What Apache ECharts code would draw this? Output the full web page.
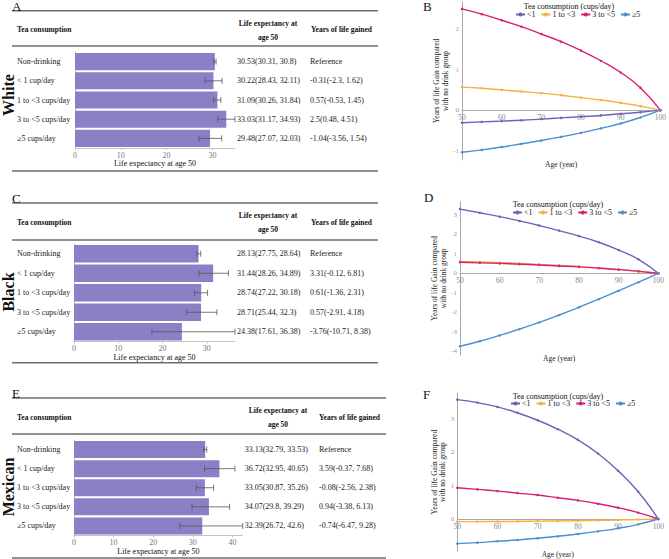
<!DOCTYPE html>
<html><head><meta charset="utf-8">
<script src="https://cdn.jsdelivr.net/npm/echarts@6/dist/echarts.min.js"></script>
<style>html,body{margin:0;padding:0;background:#fff}#c{width:669px;height:559px}</style>
</head><body><div id="c"></div>
<script>
// ---------- DATA ----------
const categories = ['Non-drinking', '< 1 cup/day', '1 to <3 cups/day', '3 to <5 cups/day', '≥5 cups/day'];

const whiteLE   = [30.53, 30.22, 31.09, 33.03, 29.48];
const whiteLow  = [30.31, 28.43, 30.26, 31.17, 27.07];
const whiteHigh = [30.8, 32.11, 31.84, 34.93, 32.03];
const whiteGain     = [null, -0.31, 0.57, 2.5, -1.04];
const whiteGainLow  = [null, -2.3, -0.53, 0.48, -3.56];
const whiteGainHigh = [null, 1.62, 1.45, 4.51, 1.54];

const blackLE   = [28.13, 31.44, 28.74, 28.71, 24.38];
const blackLow  = [27.75, 28.26, 27.22, 25.44, 17.61];
const blackHigh = [28.64, 34.89, 30.18, 32.3, 36.38];
const blackGain     = [null, 3.31, 0.61, 0.57, -3.76];
const blackGainLow  = [null, -0.12, -1.36, -2.91, -10.71];
const blackGainHigh = [null, 6.81, 2.31, 4.18, 8.38];

const mexicanLE   = [33.13, 36.72, 33.05, 34.07, 32.39];
const mexicanLow  = [32.79, 32.95, 30.87, 29.8, 26.72];
const mexicanHigh = [33.53, 40.65, 35.26, 39.29, 42.6];
const mexicanGain     = [null, 3.59, -0.08, 0.94, -0.74];
const mexicanGainLow  = [null, -0.37, -2.56, -3.38, -6.47];
const mexicanGainHigh = [null, 7.68, 2.38, 6.13, 9.28];

const ages = [50, 55, 60, 65, 70, 75, 80, 85, 90, 95, 100];
const seriesNames = ['<1', '1 to <3', '3 to <5', '≥5'];

const whiteLt1   = [-0.31, -0.29, -0.27, -0.25, -0.22, -0.19, -0.16, -0.13, -0.09, -0.05, 0];
const white1to3  = [0.57, 0.54, 0.50, 0.46, 0.42, 0.37, 0.31, 0.25, 0.18, 0.10, 0];
const white3to5  = [2.5, 2.37, 2.22, 2.06, 1.88, 1.69, 1.47, 1.22, 0.93, 0.55, 0];
const whiteGe5   = [-1.04, -0.98, -0.91, -0.83, -0.75, -0.66, -0.56, -0.45, -0.33, -0.18, 0];

const blackLt1   = [3.31, 3.12, 2.92, 2.70, 2.46, 2.20, 1.92, 1.60, 1.20, 0.72, 0];
const black1to3  = [0.61, 0.58, 0.55, 0.51, 0.46, 0.41, 0.35, 0.28, 0.20, 0.11, 0];
const black3to5  = [0.57, 0.54, 0.51, 0.47, 0.43, 0.38, 0.33, 0.26, 0.19, 0.10, 0];
const blackGe5   = [-3.76, -3.50, -3.20, -2.88, -2.53, -2.15, -1.75, -1.33, -0.90, -0.46, 0];

const mexicanLt1  = [3.59, 3.50, 3.37, 3.19, 2.97, 2.70, 2.38, 1.97, 1.45, 0.82, 0];
const mexican1to3 = [-0.08, -0.078, -0.075, -0.07, -0.065, -0.058, -0.05, -0.041, -0.03, -0.017, 0];
const mexican3to5 = [0.94, 0.89, 0.84, 0.78, 0.72, 0.64, 0.56, 0.46, 0.34, 0.19, 0];
const mexicanGe5  = [-0.74, -0.71, -0.67, -0.63, -0.58, -0.52, -0.45, -0.37, -0.28, -0.16, 0];

const barTicksWhite = [0, 10, 20, 30];
const barTicksBlack = [0, 10, 20, 30];
const barTicksMexican = [0, 10, 20, 30, 40];
const gainTicksWhite = [-1, 0, 1, 2];
const gainTicksBlack = [-4, -3, -2, -1, 0, 1, 2, 3];
const gainTicksMexican = [0, 1, 2, 3];

// ---------- LAYOUT / STYLE ----------
const FONT = 'Liberation Serif';
const lineColors = ['#6c63b8', '#f5b041', '#d81f78', '#4b8fce'];
const barColor = '#8a80c6';

const tables = [
  { race: 'White', le: whiteLE, lo: whiteLow, hi: whiteHigh, g: whiteGain, gl: whiteGainLow, gh: whiteGainHigh, ticks: barTicksWhite,
    grid: { left: 75, top: 52, width: 160, height: 96 }, labMargin: 58, ygOffset: 73,
    letter: 'A', letterXY: [12, 6], rules: [10.7, 46, 171], ruleRight: 378, head: 29, headLE: [23, 37], leX: 268, ygX: 311, raceY: 95, nameGap: 10 },
  { race: 'Black', le: blackLE, lo: blackLow, hi: blackHigh, g: blackGain, gl: blackGainLow, gh: blackGainHigh, ticks: barTicksBlack,
    grid: { left: 74, top: 244, width: 161, height: 97.5 }, labMargin: 57, ygOffset: 73,
    letter: 'C', letterXY: [12, 198], rules: [203, 240, 362.7], ruleRight: 378, head: 222.7, headLE: [215, 229], leX: 268, ygX: 311, raceY: 292, nameGap: 9 },
  { race: 'Mexican', le: mexicanLE, lo: mexicanLow, hi: mexicanHigh, g: mexicanGain, gl: mexicanGainLow, gh: mexicanGainHigh, ticks: barTicksMexican,
    grid: { left: 74, top: 440, width: 168.7, height: 95.5 }, labMargin: 57, ygOffset: 74.3,
    letter: 'E', letterXY: [12, 393], rules: [398, 434, 558], ruleRight: 386, head: 417, headLE: [410, 424], leX: 278, ygX: 319, raceY: 487, nameGap: 9 }
];

const lines = [
  { letter: 'B', letterXY: [423, 6], data: [whiteLt1, white1to3, white3to5, whiteGe5], ticks: gainTicksWhite,
    grid: { left: 462, top: 2, width: 201, height: 158 }, min: -1.23, max: 2.67, nameGap: 50, legendTitle: [569, 6], legend: { left: 515, top: 10.5 } },
  { letter: 'D', letterXY: [424, 197], data: [blackLt1, black1to3, black3to5, blackGe5], ticks: gainTicksBlack,
    grid: { left: 460, top: 201.7, width: 198.3, height: 153.3 }, min: -4.21, max: 3.69, nameGap: 81, legendTitle: [558, 204], legend: { left: 512, top: 208.5 } },
  { letter: 'F', letterXY: [423, 394], data: [mexicanLt1, mexican1to3, mexican3to5, mexicanGe5], ticks: gainTicksMexican,
    grid: { left: 457.3, top: 393.3, width: 201, height: 157.7 }, min: -0.96, max: 3.78, nameGap: 31, legendTitle: [558, 396], legend: { left: 510, top: 399.5 } }
];

function fmtCI(v, l, h) { return v + '(' + l + ', ' + h + ')'; }

function errRender(params, api) {
  const c = api.value(2);
  const p1 = api.coord([api.value(0), c]);
  const p2 = api.coord([api.value(1), c]);
  const h = 3;
  const st = { stroke: '#555', lineWidth: 0.8 };
  return { type: 'group', children: [
    { type: 'line', shape: { x1: p1[0], y1: p1[1], x2: p2[0], y2: p2[1] }, style: st },
    { type: 'line', shape: { x1: p1[0], y1: p1[1] - h, x2: p1[0], y2: p1[1] + h }, style: st },
    { type: 'line', shape: { x1: p2[0], y1: p2[1] - h, x2: p2[0], y2: p2[1] + h }, style: st }
  ] };
}

function txt(x, y, text, opt) {
  opt = opt || {};
  return { type: 'text', x: x, y: y, rotation: opt.rotation || 0, silent: true,
    style: { text: text, fill: opt.fill || '#111',
      font: (opt.weight || 'normal') + ' ' + (opt.size || 8) + 'px "' + FONT + '"',
      textAlign: opt.align || 'left', align: opt.align || 'left',
      textVerticalAlign: 'middle', verticalAlign: 'middle' } };
}
function rule(y, x1, x2) {
  return { type: 'line', silent: true, shape: { x1: x1, y1: y, x2: x2, y2: y }, style: { stroke: '#6e6e6e', lineWidth: 1.6 } };
}

const grid = [], xAxis = [], yAxis = [], series = [], graphic = [], legend = [];

tables.forEach((t, i) => {
  grid.push(t.grid);
  xAxis.push({ type: 'value', gridIndex: i, min: 0, max: Math.max.apply(null, t.hi),
    name: 'Life expectancy at age 50', nameLocation: 'middle', nameGap: t.nameGap,
    nameTextStyle: { fontFamily: FONT, fontSize: 8, color: '#111' },
    splitLine: { show: false },
    axisLine: { show: true, lineStyle: { color: '#c4c4c4', width: 1 } },
    axisTick: { show: true, length: 2, lineStyle: { color: '#c4c4c4' }, customValues: t.ticks },
    axisLabel: { fontFamily: FONT, fontSize: 8, color: '#777', margin: 3, customValues: t.ticks } });
  const yi = yAxis.length;
  yAxis.push({ type: 'category', gridIndex: i, inverse: true, data: categories,
    axisLine: { show: true, lineStyle: { color: '#c4c4c4' } }, axisTick: { show: false },
    axisLabel: { interval: 0, align: 'left', margin: t.labMargin, fontFamily: FONT, fontSize: 8, color: '#222' } });
  yAxis.push({ type: 'category', gridIndex: i, inverse: true, position: 'right',
    data: t.le.map((v, k) => fmtCI(v, t.lo[k], t.hi[k])),
    axisLine: { show: false }, axisTick: { show: false },
    axisLabel: { interval: 0, align: 'left', margin: 2, fontFamily: FONT, fontSize: 8, color: '#222' } });
  yAxis.push({ type: 'category', gridIndex: i, inverse: true, position: 'right', offset: t.ygOffset,
    data: t.g.map((v, k) => v === null ? 'Reference' : fmtCI(v, t.gl[k], t.gh[k])),
    axisLine: { show: false }, axisTick: { show: false },
    axisLabel: { interval: 0, align: 'left', margin: 2, fontFamily: FONT, fontSize: 8, color: '#222' } });
  series.push({ type: 'bar', xAxisIndex: i, yAxisIndex: yi, data: t.le, barCategoryGap: '11%',
    itemStyle: { color: barColor }, silent: true });
  series.push({ type: 'custom', xAxisIndex: i, yAxisIndex: yi, renderItem: errRender,
    encode: { x: [0, 1], y: 2 }, data: t.lo.map((l, k) => [l, t.hi[k], k]), silent: true, z: 5 });

  t.rules.forEach(y => graphic.push(rule(y, 12, t.ruleRight)));
  graphic.push(txt(t.letterXY[0], t.letterXY[1], t.letter, { size: 13 }));
  graphic.push(txt(17, t.head, 'Tea consumption', { weight: 'bold', size: 7.5 }));
  graphic.push(txt(t.leX, t.headLE[0], 'Life expectancy at', { weight: 'bold', size: 7.5, align: 'center' }));
  graphic.push(txt(t.leX, t.headLE[1], 'age 50', { weight: 'bold', size: 7.5, align: 'center' }));
  graphic.push(txt(t.ygX, t.head, 'Years of life gained', { weight: 'bold', size: 7.5 }));
  graphic.push(txt(8, t.raceY, t.race, { weight: 'bold', size: 16, align: 'center', rotation: Math.PI / 2 }));
});

lines.forEach((l, j) => {
  const gi = 3 + j;
  grid.push(l.grid);
  // place the x axis line at y = 0 of this panel's value axis
  const zeroOffset = -l.grid.height * (0 - l.min) / (l.max - l.min);
  xAxis.push({ type: 'value', gridIndex: gi, min: 50, max: 100, interval: 10, offset: zeroOffset,
    name: 'Age (year)', nameLocation: 'middle', nameGap: l.nameGap,
    nameTextStyle: { fontFamily: FONT, fontSize: 7.5, color: '#222' },
    splitLine: { show: false },
    axisLine: { onZero: false, lineStyle: { color: '#a8a8a8' } }, axisTick: { show: false },
    axisLabel: { fontFamily: FONT, fontSize: 7.5, color: '#888', margin: 3 } });
  const yi = yAxis.length;
  yAxis.push({ type: 'value', gridIndex: gi, min: l.min, max: l.max,
    name: 'Years of life Gain compared\nwith no drink group', nameLocation: 'middle', nameGap: 9,
    nameTextStyle: { fontFamily: FONT, fontSize: 7.5, color: '#222', lineHeight: 8.5 },
    splitLine: { show: false },
    axisLine: { show: true, onZero: false, lineStyle: { color: '#a8a8a8' } }, axisTick: { show: false },
    axisLabel: { fontFamily: FONT, fontSize: 7, color: '#999', margin: 3, customValues: l.ticks } });
  l.data.forEach((arr, s) => {
    series.push({ type: 'line', name: seriesNames[s], xAxisIndex: gi, yAxisIndex: yi, smooth: true,
      data: ages.map((a, k) => [a, arr[k]]), symbol: 'circle', symbolSize: 2.5, showSymbol: true,
      color: lineColors[s], lineStyle: { width: 1.4, color: lineColors[s] }, itemStyle: { color: lineColors[s] },
      silent: true, animation: false });
  });
  legend.push({ left: l.legend.left, top: l.legend.top, data: seriesNames, itemWidth: 9, itemHeight: 5, itemGap: 5,
    textStyle: { fontFamily: FONT, fontSize: 8, color: '#222', padding: [0, 0, 0, -3] }, selectedMode: false, padding: 0 });
  graphic.push(txt(l.letterXY[0], l.letterXY[1], l.letter, { size: 13 }));
  graphic.push(txt(l.legendTitle[0], l.legendTitle[1], 'Tea consumption (cups/day)', { size: 8, align: 'center' }));
});

const chart = echarts.init(document.getElementById('c'), null, { renderer: 'svg' });
chart.setOption({
  animation: false,
  backgroundColor: '#fff',
  textStyle: { fontFamily: FONT },
  grid: grid, xAxis: xAxis, yAxis: yAxis, series: series, legend: legend, graphic: graphic
});
</script></body></html>
